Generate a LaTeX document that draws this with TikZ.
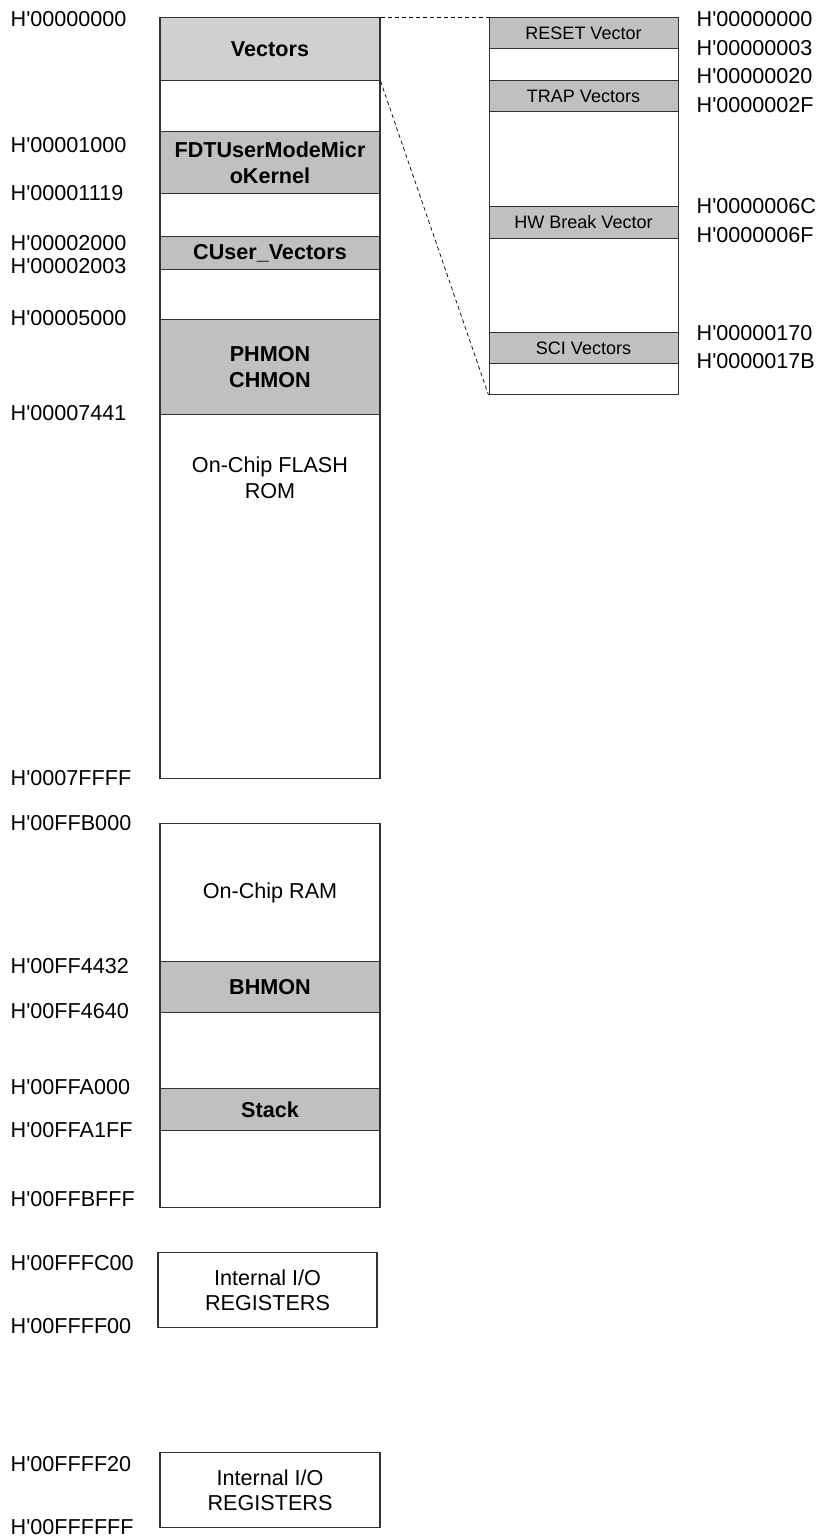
\documentclass[tikz,border=0pt]{standalone}
\usepackage{fontspec}
\setmainfont{Liberation Sans}[Ligatures=TeXOff]
\definecolor{lg}{HTML}{D0D0D0}
\definecolor{mg}{HTML}{C0C0C0}
\definecolor{ln}{HTML}{333333}
\tikzset{
  region/.style={draw=ln, line width=1.1pt, minimum width=220pt, inner sep=0pt, anchor=north, align=center, font=\bfseries\fontsize{21.6}{26}\selectfont},
  plainregion/.style={region, font=\fontsize{21.6}{25}\selectfont},
  subregion/.style={draw=ln, line width=1pt, minimum width=189pt, inner sep=0pt, anchor=north, align=center, font=\fontsize{18}{22}\selectfont},
  addr/.style={anchor=base west, inner sep=0pt, font=\fontsize{21.6}{26}\selectfont},
  zoomline/.style={draw=black, line width=0.7pt, dash pattern=on 4pt off 3pt}
}
\begin{document}
\begin{tikzpicture}[x=1pt,y=-1pt]
\useasboundingbox[fill=white] (0,0) rectangle (821,1539);
% main FLASH column
\node[region, fill=lg, minimum height=63pt] (vectors) at (270,17) {Vectors};
\node[region, minimum height=51pt] (gapa) at (270,80) {};
\node[region, fill=mg, minimum height=62pt] (fdt) at (270,131) {FDTUserModeMicr\\oKernel};
\node[region, minimum height=43pt] (gapb) at (270,193) {};
\node[region, fill=mg, minimum height=33pt] (cuser) at (270,236) {CUser\_Vectors};
\node[region, minimum height=50pt] (gapc) at (270,269) {};
\node[region, fill=mg, minimum height=95pt] (phmon) at (270,319) {PHMON\\CHMON};
\node[region, minimum height=364pt] (flash) at (270,414) {};
\node[align=center, inner sep=0pt, font=\fontsize{21.6}{26}\selectfont] (flashtxt) at (270,478) {On-Chip FLASH\\ROM};
% RAM column
\node[plainregion, minimum height=138pt] (ram) at (270,823) {On-Chip RAM};
\node[region, fill=mg, minimum height=51pt] (bhmon) at (270,961) {BHMON};
\node[region, minimum height=76pt] (gapd) at (270,1012) {};
\node[region, fill=mg, minimum height=42pt] (stack) at (270,1088) {Stack};
\node[region, minimum height=77pt] (gape) at (270,1130) {};
% I/O boxes
\node[plainregion, minimum width=219pt, minimum height=75pt] (ioa) at (267.5,1252) {Internal I/O\\REGISTERS};
\node[plainregion, minimum height=75pt] (iob) at (270,1452) {Internal I/O\\REGISTERS};
% vector detail column
\node[subregion, fill=mg, minimum height=31pt] (reset) at (583.5,17) {RESET Vector};
\node[subregion, minimum height=32pt] (sga) at (583.5,48) {};
\node[subregion, fill=mg, minimum height=31pt] (trap) at (583.5,80) {TRAP Vectors};
\node[subregion, minimum height=95pt] (sgb) at (583.5,111) {};
\node[subregion, fill=mg, minimum height=32pt] (hw) at (583.5,206) {HW Break Vector};
\node[subregion, minimum height=94pt] (sgc) at (583.5,238) {};
\node[subregion, fill=mg, minimum height=31pt] (sci) at (583.5,332) {SCI Vectors};
\node[subregion, minimum height=31pt] (sgd) at (583.5,363) {};
% zoom lines
\draw[zoomline] (vectors.north east) -- (reset.north west);
\draw[zoomline] (vectors.south east) -- (sgd.south west);
% left address labels
\node[addr] (l1) at (10.5,26) {H'00000000};
\node[addr] (l2) at (10.5,152.5) {H'00001000};
\node[addr] (l3) at (10.5,200.5) {H'00001119};
\node[addr] (l4) at (10.5,250) {H'00002000};
\node[addr] (l5) at (10.5,273) {H'00002003};
\node[addr] (l6) at (10.5,325) {H'00005000};
\node[addr] (l7) at (10.5,420) {H'00007441};
\node[addr] (l8) at (10.5,785) {H'0007FFFF};
\node[addr] (l9) at (10.5,830) {H'00FFB000};
\node[addr] (l10) at (10.5,973) {H'00FF4432};
\node[addr] (l11) at (10.5,1018) {H'00FF4640};
\node[addr] (l12) at (10.5,1094) {H'00FFA000};
\node[addr] (l13) at (10.5,1137) {H'00FFA1FF};
\node[addr] (l14) at (10.5,1206) {H'00FFBFFF};
\node[addr] (l15) at (10.5,1270) {H'00FFFC00};
\node[addr] (l16) at (10.5,1333) {H'00FFFF00};
\node[addr] (l17) at (10.5,1471) {H'00FFFF20};
\node[addr] (l18) at (10.5,1534) {H'00FFFFFF};
% right address labels
\node[addr] (r1) at (696.5,26) {H'00000000};
\node[addr] (r2) at (696.5,55) {H'00000003};
\node[addr] (r3) at (696.5,83) {H'00000020};
\node[addr] (r4) at (696.5,112) {H'0000002F};
\node[addr] (r5) at (696.5,213) {H'0000006C};
\node[addr] (r6) at (696.5,242) {H'0000006F};
\node[addr] (r7) at (696.5,340) {H'00000170};
\node[addr] (r8) at (696.5,368) {H'0000017B};
\end{tikzpicture}
\end{document}
